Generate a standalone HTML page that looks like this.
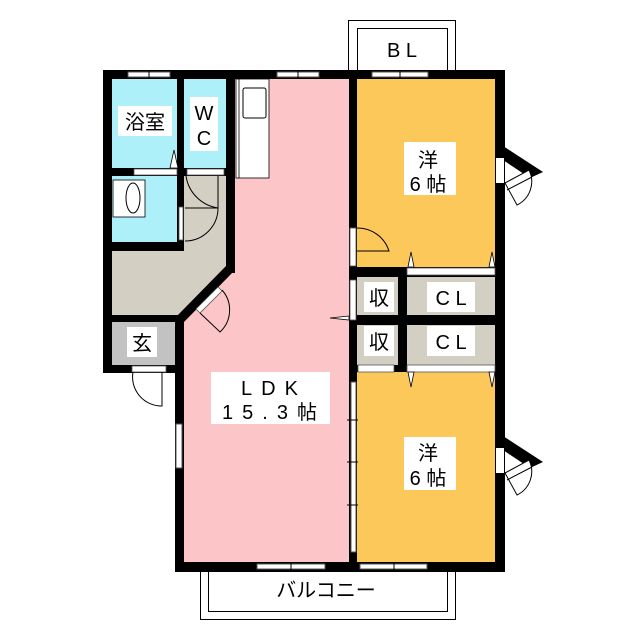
<!DOCTYPE html>
<html><head><meta charset="utf-8"><style>
html,body{margin:0;padding:0;background:#fff;}
svg{display:block;}
text{font-family:"Liberation Sans","Noto Sans CJK JP",sans-serif;fill:#000;}
</style></head><body>
<svg width="640" height="640" viewBox="0 0 640 640" xmlns="http://www.w3.org/2000/svg">
<rect x="348.5" y="20.5" width="107" height="55" fill="#fff" stroke="#000" stroke-width="1"/>
<rect x="357.5" y="28.5" width="90" height="47" fill="#fff" stroke="#000" stroke-width="1"/>
<rect x="200.5" y="566.5" width="255" height="53" fill="#fff" stroke="#000" stroke-width="1"/>
<rect x="208.5" y="566.5" width="239" height="45" fill="#fff" stroke="#000" stroke-width="1"/>
<rect x="112" y="79" width="66" height="90" fill="#aef0fa"/>
<rect x="184" y="79" width="42" height="90" fill="#aef0fa"/>
<polygon points="112,176 226,176 226,272 180,318 112,318" fill="#d3d0c3"/>
<rect x="112" y="176" width="66" height="66" fill="#aef0fa"/>
<rect x="112" y="322" width="64" height="44" fill="#c2c2c2"/>
<polygon points="234,79 350,79 350,563 184,563 184,318 234,268" fill="#fcc6c8"/>
<rect x="357" y="79" width="138" height="188" fill="#fcc859"/>
<rect x="357" y="372" width="138" height="191" fill="#fcc859"/>
<rect x="357" y="277" width="41" height="38" fill="#d3d0c3"/>
<rect x="407" y="277" width="88" height="38" fill="#d3d0c3"/>
<rect x="357" y="325" width="41" height="40" fill="#d3d0c3"/>
<rect x="407" y="325" width="88" height="40" fill="#d3d0c3"/>
<g fill="#000">
<rect x="103" y="70" width="402" height="9"/>
<rect x="103" y="70" width="9" height="303"/>
<rect x="103" y="365" width="80" height="8"/>
<rect x="175" y="318" width="9" height="254"/>
<rect x="175" y="562" width="330" height="10"/>
<rect x="495" y="70" width="10" height="502"/>
<rect x="349" y="79" width="8" height="483"/>
<rect x="177" y="79" width="7" height="170"/>
<rect x="226" y="79" width="9" height="194"/>
<rect x="103" y="168" width="130" height="8"/>
<rect x="103" y="242" width="81" height="9"/>
<rect x="103" y="315" width="75" height="7"/>
<polygon points="226,266 235,270 184,322 175,318"/>
<rect x="357" y="267" width="140" height="10"/>
<rect x="357" y="315" width="140" height="10"/>
<rect x="398" y="267" width="9" height="105"/>
<rect x="357" y="365" width="140" height="7"/>
<polygon points="503,146 543,172 530,178 503,160"/>
<polygon points="503,436 543,462 530,468 503,450"/>
</g>
<g fill="#fff" stroke="#000" stroke-width="1">
<rect x="496" y="158" width="8" height="25" stroke="none"/>
<path d="M505,183 L529,170 A26,26 0 0 1 517,205 Z"/>
<line x1="507" y1="190" x2="532" y2="177"/>
<rect x="496" y="448" width="8" height="25" stroke="none"/>
<path d="M505,473 L529,460 A26,26 0 0 1 517,495 Z"/>
<line x1="507" y1="480" x2="532" y2="467"/>
</g>
<g fill="#fff" stroke="#555" stroke-width="1">
<rect x="128" y="72" width="42" height="5"/>
<rect x="277" y="72" width="42" height="5"/>
<rect x="372" y="72" width="56" height="5"/>
<rect x="257" y="564" width="68" height="5"/>
<rect x="360" y="564" width="67" height="5"/>
<rect x="176" y="424" width="6" height="44"/>
<rect x="351" y="382" width="5" height="170"/>
</g>
<g stroke="#000" stroke-width="1">
<line x1="149" y1="70" x2="149" y2="79"/><line x1="298" y1="70" x2="298" y2="79"/><line x1="400" y1="70" x2="400" y2="79"/>
<line x1="291" y1="562" x2="291" y2="572"/><line x1="394" y1="562" x2="394" y2="572"/>
<line x1="347" y1="420" x2="358" y2="420"/><line x1="347" y1="462" x2="358" y2="462"/><line x1="347" y1="505" x2="358" y2="505"/>
</g>
<g fill="#fff" stroke="#555" stroke-width="0.8">
<rect x="134" y="169" width="43" height="6"/>
<rect x="187" y="169" width="37" height="6"/>
<rect x="179" y="207" width="4" height="33"/>
<rect x="350" y="228" width="6" height="38"/>
<rect x="350" y="280" width="6" height="40"/>
<rect x="407" y="268" width="88" height="7"/>
<rect x="407" y="365" width="88" height="7"/>
<rect x="358" y="365" width="36" height="7"/>
<rect x="132" y="366" width="34" height="6"/>
<polygon points="196,309 218,287 222,291 200,313"/>
</g>
<g fill="none" stroke="#000" stroke-width="1">
<path d="M186,176 A38,38 0 0 0 218,208 L218,176"/>
<path d="M185,208 L218,208 A33,33 0 0 1 185,241"/>
<path d="M357,228 A33,33 0 0 1 389,251 L357,251"/>
<path d="M133,372 A29,29 0 0 0 162,406 L162,372"/>
<path d="M200,313 L220,332 A30,30 0 0 0 222,290"/>
</g>
<rect x="236" y="79" width="33" height="99" fill="#fff" stroke="#000" stroke-width="0.8"/>
<rect x="243" y="88" width="23" height="30" rx="2" fill="#fff" stroke="#000"/>
<line x1="239" y1="79" x2="239" y2="178" stroke="#000" stroke-width="0.8"/>
<rect x="113" y="180" width="32" height="37" fill="#fff" stroke="#000" stroke-width="0.8"/>
<ellipse cx="133" cy="198" rx="7" ry="15" fill="#fff" stroke="#000"/>
<g fill="#fff" stroke="#000" stroke-width="0.8">
<polygon points="170,168 174,150 178,168"/>
<polygon points="408,267 411,252 414,267"/>
<polygon points="489,267 492,252 495,267"/>
<polygon points="408,372 411,387 414,372"/>
<polygon points="489,372 492,387 495,372"/>
<polygon points="349,316 330,318 349,320"/>
</g>
<g fill="#fff">
<rect x="118" y="106" width="54" height="30"/>
<rect x="190" y="97" width="28" height="54"/>
<rect x="404" y="142" width="52" height="53"/>
<rect x="364" y="282" width="30" height="30"/>
<rect x="427" y="282" width="48" height="30"/>
<rect x="364" y="326" width="30" height="30"/>
<rect x="427" y="326" width="48" height="30"/>
<rect x="127" y="327" width="30" height="30"/>
<rect x="211" y="372" width="119" height="52"/>
<rect x="404" y="437" width="52" height="53"/>
</g>
<g font-size="20" text-anchor="middle">
<text x="145" y="129">浴室</text>
<text x="204" y="120">W</text>
<text x="204" y="145">C</text>
<text x="428" y="167">洋</text>
<text x="428" y="191">6 帖</text>
<text x="379" y="305">収</text>
<text x="451" y="305">C L</text>
<text x="379" y="349">収</text>
<text x="451" y="349">C L</text>
<text x="142" y="350">玄</text>
<text x="274" y="395" letter-spacing="9">LDK</text>
<text x="274" y="419" letter-spacing="9">15.3帖</text>
<text x="428" y="460">洋</text>
<text x="428" y="485">6 帖</text>
<text x="402" y="57">B L</text>
<text x="326" y="597">バルコニー</text>
</g>
</svg>
</body></html>
